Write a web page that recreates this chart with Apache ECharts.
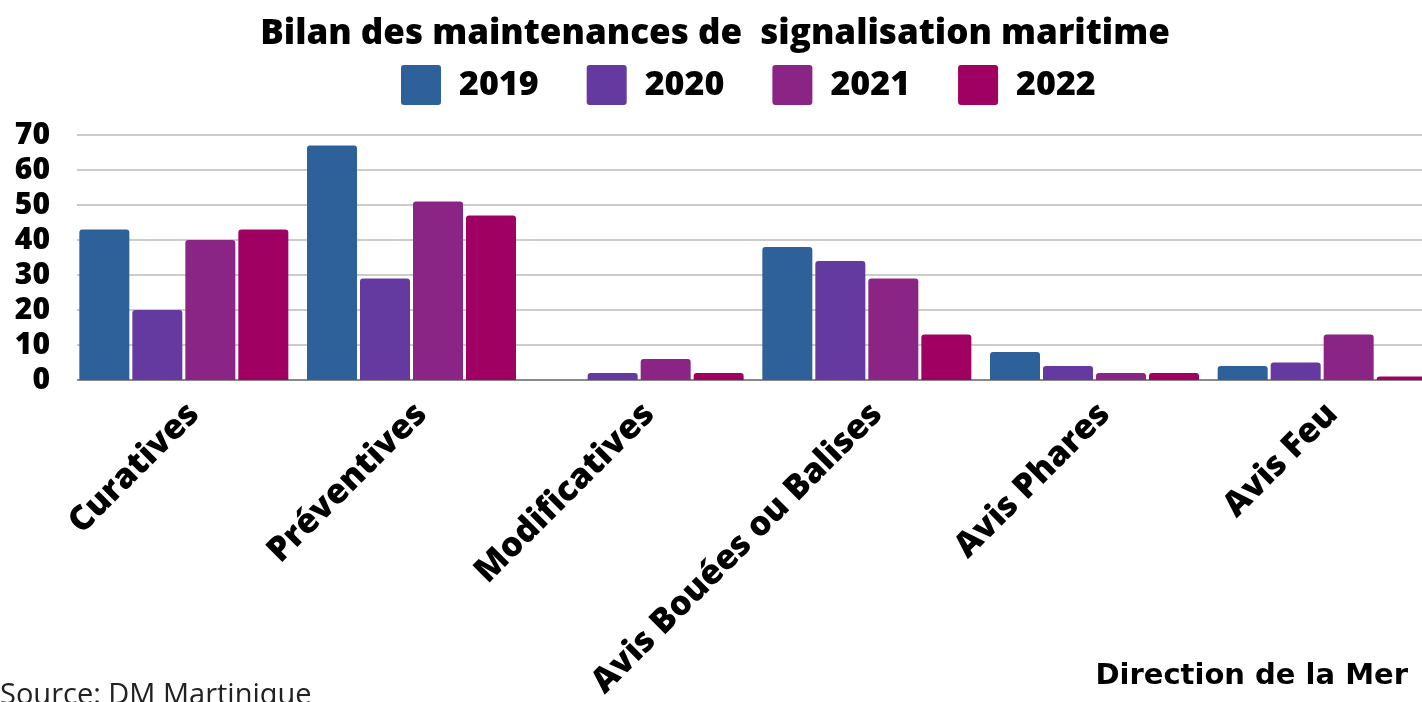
<!DOCTYPE html>
<html>
<head>
<meta charset="utf-8">
<script src="https://cdn.jsdelivr.net/npm/echarts@6/dist/echarts.min.js"></script>
<style>
  html, body { margin: 0; padding: 0; background: #fff; overflow: hidden; }
  #chart { width: 1460px; height: 702px; }
</style>
</head>
<body>
<div id="chart"></div>
<script>
// Maintenance categories along the x axis
const categories = ['Curatives', 'Préventives', 'Modificatives', 'Avis Bouées ou Balises', 'Avis Phares', 'Avis Feu'];
// Yearly counts per category
const y2019 = [43, 67, 0, 38, 8, 4];
const y2020 = [20, 29, 2, 34, 4, 5];
const y2021 = [40, 51, 6, 29, 2, 13];
const y2022 = [43, 47, 2, 13, 2, 1];
const years = ['2019', '2020', '2021', '2022'];
const yTicks = [0, 10, 20, 30, 40, 50, 60, 70];

const colors = ['#2e6099', '#6439a0', '#8a2485', '#9f0062'];
const values = [y2019, y2020, y2021, y2022];

// Square legend swatch with slightly rounded corners
const swatch = 'path://M3,0H37A3,3 0 0 1 40,3V37A3,3 0 0 1 37,40H3A3,3 0 0 1 0,37V3A3,3 0 0 1 3,0Z';

const chart = echarts.init(document.getElementById('chart'));
chart.setOption({
  animation: false,
  color: colors,
  title: {
    text: 'Bilan des maintenances de  signalisation maritime',
    left: 710,
    textAlign: 'center',
    top: 12,
    textStyle: { fontFamily: 'Open Sans', fontWeight: 800, fontSize: 35, color: '#000' }
  },
  legend: {
    top: 60,
    left: 396,
    itemWidth: 40,
    itemHeight: 40,
    itemGap: 48,
    icon: swatch,
    textStyle: { fontFamily: 'Open Sans', fontWeight: 800, fontSize: 34, color: '#000', padding: [0, 0, 0, 13] },
    data: years
  },
  grid: [
    { left: 70, top: 135, width: 1366, height: 245, containLabel: false },
    // label-only grid, nudged right so the slanted names sit past each group's centre
    { left: 80, top: 135, width: 1366, height: 245, containLabel: false }
  ],
  xAxis: [
    {
      type: 'category',
      gridIndex: 0,
      data: categories,
      axisTick: { show: false },
      axisLine: { lineStyle: { color: '#8a8a8a', width: 2 } },
      axisLabel: { show: false }
    },
    {
      type: 'category',
      gridIndex: 1,
      data: categories,
      axisTick: { show: false },
      axisLine: { show: false },
      axisLabel: {
        rotate: 45,
        margin: 37,
        interval: 0,
        fontFamily: 'Open Sans',
        fontWeight: 800,
        fontSize: 34,
        color: '#000'
      }
    }
  ],
  yAxis: [
    {
      type: 'value',
      gridIndex: 0,
      min: yTicks[0],
      max: yTicks[yTicks.length - 1],
      interval: 10,
      axisLine: { show: false },
      axisTick: { show: false },
      splitLine: { lineStyle: { color: '#cccccc', width: 2 } },
      axisLabel: {
        margin: 20,
        fontFamily: 'Open Sans',
        fontWeight: 800,
        fontSize: 30,
        color: '#000'
      }
    },
    {
      type: 'value',
      gridIndex: 1,
      min: 0,
      max: 70,
      show: false
    }
  ],
  series: years.map((y, i) => ({
    name: y,
    type: 'bar',
    xAxisIndex: 0,
    yAxisIndex: 0,
    data: values[i],
    barWidth: 50,
    barGap: '6%',
    barCategoryGap: '8%',
    itemStyle: { color: colors[i], borderRadius: [3, 3, 0, 0] }
  })),
  graphic: [
    // trims grid lines so they begin where the first bar does
    {
      type: 'rect',
      z: 100,
      shape: { x: 66, y: 125, width: 11, height: 262 },
      style: { fill: '#fff' }
    },
    {
      type: 'text',
      z: 101,
      x: 0,
      y: 681,
      style: { text: 'Source: DM Martinique', fontFamily: 'Open Sans', fontSize: 29, fill: '#222', textVerticalAlign: 'top' }
    },
    {
      type: 'text',
      z: 101,
      x: 1408,
      y: 662,
      style: { text: 'Direction de la Mer', fontFamily: 'DejaVu Sans', fontWeight: 'bold', fontSize: 29, fill: '#000', textAlign: 'right', textVerticalAlign: 'top' }
    }
  ]
});
</script>
</body>
</html>
